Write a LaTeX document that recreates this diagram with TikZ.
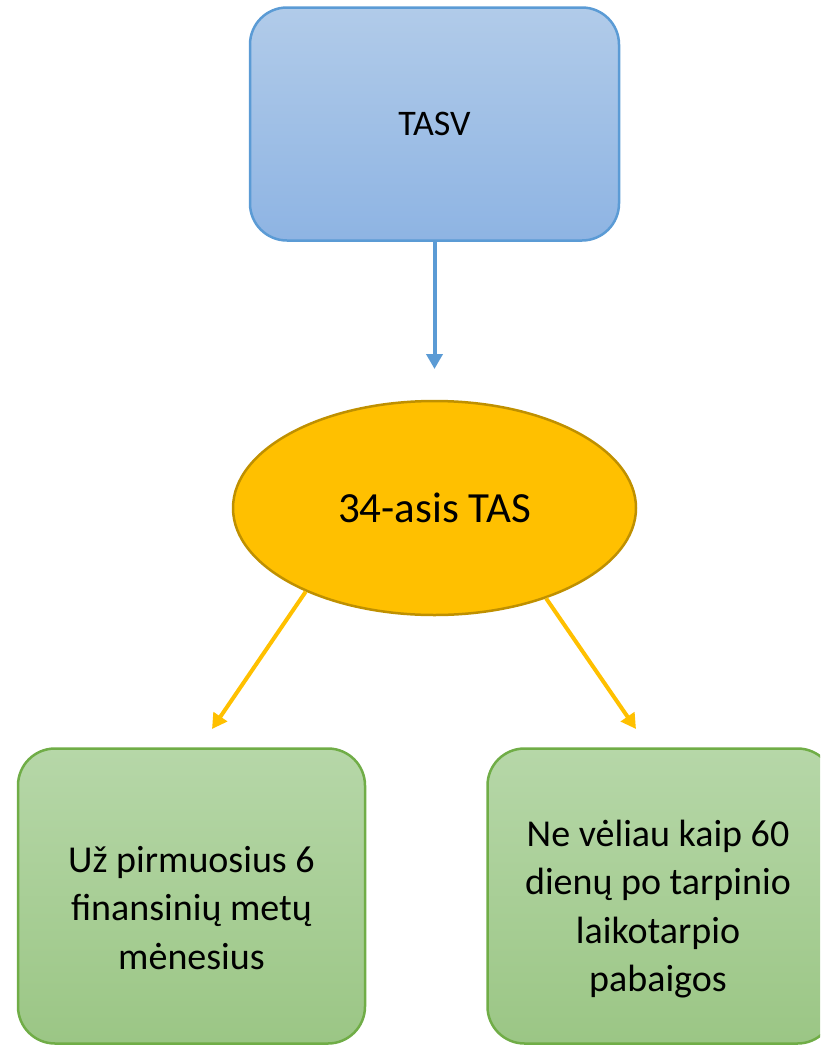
\documentclass[tikz,border=0pt]{standalone}
\usepackage{fontspec}
\setmainfont{Carlito}
\usepackage{tikz}
\usetikzlibrary{arrows.meta,positioning,shapes.geometric}

\definecolor{boxblue}{HTML}{5B9BD5}
\definecolor{blueTop}{HTML}{B1CBE9}
\definecolor{blueBot}{HTML}{8EB4E3}
\definecolor{tasgold}{HTML}{FFC000}
\definecolor{tasedge}{HTML}{BF9000}
\definecolor{boxgreen}{HTML}{70AD47}
\definecolor{greenTop}{HTML}{B6D7A8}
\definecolor{greenBot}{HTML}{9BC685}

\begin{document}
\begin{tikzpicture}[x=1pt,y=-1pt,
    bluebox/.style={rectangle,rounded corners=37pt,draw=boxblue,line width=2.5pt,
      top color=blueTop,bottom color=blueBot,minimum width=369pt,minimum height=233pt,
      font=\fontsize{36}{44}\selectfont},
    tasoval/.style={ellipse,draw=tasedge,line width=2.5pt,fill=tasgold,
      minimum width=403pt,minimum height=214pt,font=\fontsize{43}{50}\selectfont},
    greenbox/.style={rectangle,rounded corners=37pt,draw=boxgreen,line width=2.5pt,
      top color=greenTop,bottom color=greenBot,minimum width=347pt,minimum height=295pt},
    greentext/.style={align=center,font=\fontsize{38}{48.5}\selectfont},
    bluearrow/.style={-{Triangle[width=16pt,length=15pt]},line width=4pt,draw=boxblue},
    goldarrow/.style={-{Triangle[width=16pt,length=15pt]},line width=4pt,draw=tasgold}]

  \useasboundingbox (0,0) rectangle (820,1045);
  \clip (0,0) rectangle (820,1045);

  % Top: standard
  \node[bluebox] (tasv) at (434.5,124) {TASV};
  \coordinate (tiptop) at (434.5,369);

  % Middle: 34-asis TAS
  \node[tasoval,below=158pt of tasv] (tas) {34-asis TAS};
  \draw[bluearrow] (tasv) -- (tiptop);

  % Bottom: two deadlines
  \node[greenbox] (half) at (191.5,896) {};
  \node[greentext] (halftxt) at ([yshift=-12pt]half.center) {Už pirmuosius 6\\finansinių metų\\mėnesius};
  \node[greenbox] (late) at (661,896) {};
  \node[greentext] (latetxt) at ([xshift=-3pt,yshift=-13pt]late.center) {Ne vėliau kaip 60\\dienų po tarpinio\\laikotarpio\\pabaigos};

  \coordinate (tipleft) at (212,729);
  \coordinate (tipright) at (636,729);
  \draw[goldarrow] (tas.213) -- (tipleft);
  \draw[goldarrow] (tas.321.5) -- (tipright);

\end{tikzpicture}
\end{document}
